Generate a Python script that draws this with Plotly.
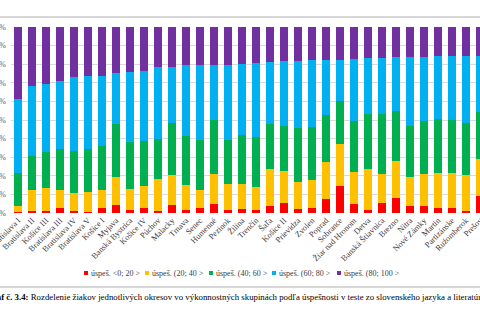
import plotly.graph_objects as go

# Okresy (districts) in chart order
districts = [
    "Bratislava I", "Bratislava II", "Košice III", "Bratislava III", "Bratislava IV",
    "Bratislava V", "Košice I", "Myjava", "Banská Bystrica", "Košice IV", "Púchov",
    "Malacky", "Trnava", "Senec", "Humenné", "Pezinok", "Žilina", "Trenčín", "Šaľa",
    "Košice II", "Prievidza", "Zvolen", "Poprad", "Sobrance", "Žiar nad Hronom",
    "Detva", "Banská Štiavnica", "Brezno", "Nitra", "Nové Zámky", "Martin",
    "Partizánske", "Ružomberok", "Prešov",
]

# Share of pupils (%) in each performance group
band_0_20 = [0.7, 1.1, 1.2, 2.5, 1.1, 0.7, 2.8, 4.3, 1.6, 2.7, 1.1, 4.4, 1.8, 2.5, 4.6,
             1.4, 1.9, 1.4, 3.5, 5.5, 2.1, 2.8, 7.5, 14.3, 4.6, 1.4, 5.3, 8.2, 3.7, 3.5,
             2.7, 2.7, 0.9, 9.3]
band_20_40 = [3.2, 11.0, 12.0, 9.6, 9.8, 10.7, 9.7, 14.8, 11.4, 11.9, 17.3, 16.0, 13.0,
              10.0, 16.4, 14.3, 13.6, 12.7, 20.2, 17.3, 14.8, 14.9, 19.8, 23.0, 17.7,
              22.0, 15.7, 19.8, 15.6, 17.7, 18.9, 18.7, 19.3, 19.9]
band_40_60 = [17.8, 18.6, 19.5, 22.5, 22.6, 23.2, 23.5, 28.9, 25.0, 24.3, 21.6, 28.1,
              26.6, 26.6, 29.0, 23.6, 26.6, 26.8, 24.1, 24.1, 28.8, 28.7, 25.4, 23.0,
              27.3, 29.9, 32.3, 26.8, 27.5, 28.2, 28.9, 28.6, 28.0, 24.9]
band_60_80 = [39.4, 37.5, 36.4, 36.4, 39.7, 39.3, 37.8, 27.1, 37.8, 37.7, 38.5, 30.2,
              38.0, 40.3, 29.6, 40.5, 38.2, 39.8, 33.6, 34.8, 36.2, 35.7, 29.6, 22.2,
              33.2, 29.9, 30.0, 28.9, 37.1, 34.7, 33.7, 34.3, 36.2, 30.5]
band_80_100 = [38.9, 31.8, 30.9, 29.0, 26.8, 26.1, 26.2, 24.9, 24.2, 23.4, 21.5, 21.3,
               20.6, 20.6, 20.4, 20.2, 19.7, 19.3, 18.6, 18.3, 18.1, 17.9, 17.7, 17.5,
               17.2, 16.8, 16.7, 16.3, 16.1, 15.9, 15.8, 15.7, 15.6, 15.4]

series_names = ["úspeš. <0; 20 >", "úspeš. (20; 40 >", "úspeš. (40; 60 >",
                "úspeš. (60; 80 >", "úspeš. (80; 100 >"]
series_values = [band_0_20, band_20_40, band_40_60, band_60_80, band_80_100]
series_colors = ["#FF0000", "#FFC000", "#00B050", "#00B0F0", "#7030A0"]

caption = ("<b>Graf č. 3.4:</b> Rozdelenie žiakov jednotlivých okresov vo výkonnostných "
           "skupinách podľa úspešnosti v teste zo slovenského jazyka a literatúry")

W, H = 480, 323
ML, MR, MT, MB = 11, 0, 27, 110
PW, PH = W - ML - MR, H - MT - MB
SLOT = 14  # pixels per category


def px_x(x):
    return (x - ML) / PW


def px_y(y):
    return (H - MB - y) / PH


fig = go.Figure()
for name, vals, col in zip(series_names, series_values, series_colors):
    fig.add_trace(go.Bar(x=districts, y=vals, name=name, marker_color=col,
                         marker_line_width=0, showlegend=False))

serif = "Liberation Serif, Times New Roman, serif"

# Legend row: small colour keys followed by series names
legend_x = [86, 147, 211, 274, 339]
legend_y = 273
shapes = []
annotations = []
for name, col, lx in zip(series_names, series_colors, legend_x):
    shapes.append(dict(type="rect", xref="paper", yref="paper",
                       x0=px_x(lx - 2), x1=px_x(lx + 2),
                       y0=px_y(legend_y + 2), y1=px_y(legend_y - 2),
                       fillcolor=col, line_width=0))
    annotations.append(dict(text=name.replace("<", "&lt;").replace(">", "&gt;"),
                            xref="paper", yref="paper", x=px_x(lx + 3), y=px_y(legend_y),
                            xanchor="left", yanchor="middle", showarrow=False,
                            font=dict(family=serif, size=8, color="#404040")))

# Page rules above the chart and above the caption
for ly in (17, 287):
    shapes.append(dict(type="line", xref="paper", yref="paper",
                       x0=px_x(0), x1=px_x(W), y0=px_y(ly), y1=px_y(ly),
                       line=dict(color="#C8C8C8", width=1.5)))

annotations.append(dict(text=caption, xref="paper", yref="paper",
                        x=px_x(-16), y=px_y(297), xanchor="left", yanchor="middle",
                        showarrow=False, font=dict(family=serif, size=8.8, color="#000000")))

fig.update_layout(
    template="none",
    width=W, height=H,
    margin=dict(l=ML, r=MR, t=MT, b=MB, pad=0),
    barmode="stack",
    bargap=1 - 8 / SLOT,
    paper_bgcolor="white", plot_bgcolor="white",
    shapes=shapes, annotations=annotations,
    showlegend=False,
    xaxis=dict(type="category", range=[-0.5, -0.5 + PW / SLOT], automargin=False,
               tickangle=-45, showgrid=False, showline=False, ticks="",
               tickfont=dict(family=serif, size=8.3, color="#404040"), zeroline=False),
    yaxis=dict(range=[0, 100], dtick=10, ticksuffix="%", automargin=False,
               showgrid=True, gridcolor="#D9D9D9", gridwidth=1, zeroline=False,
               showline=False, ticks="", ticklabelstandoff=4,
               tickfont=dict(family=serif, size=8, color="#595959")),
)

fig.write_html("out.html")
